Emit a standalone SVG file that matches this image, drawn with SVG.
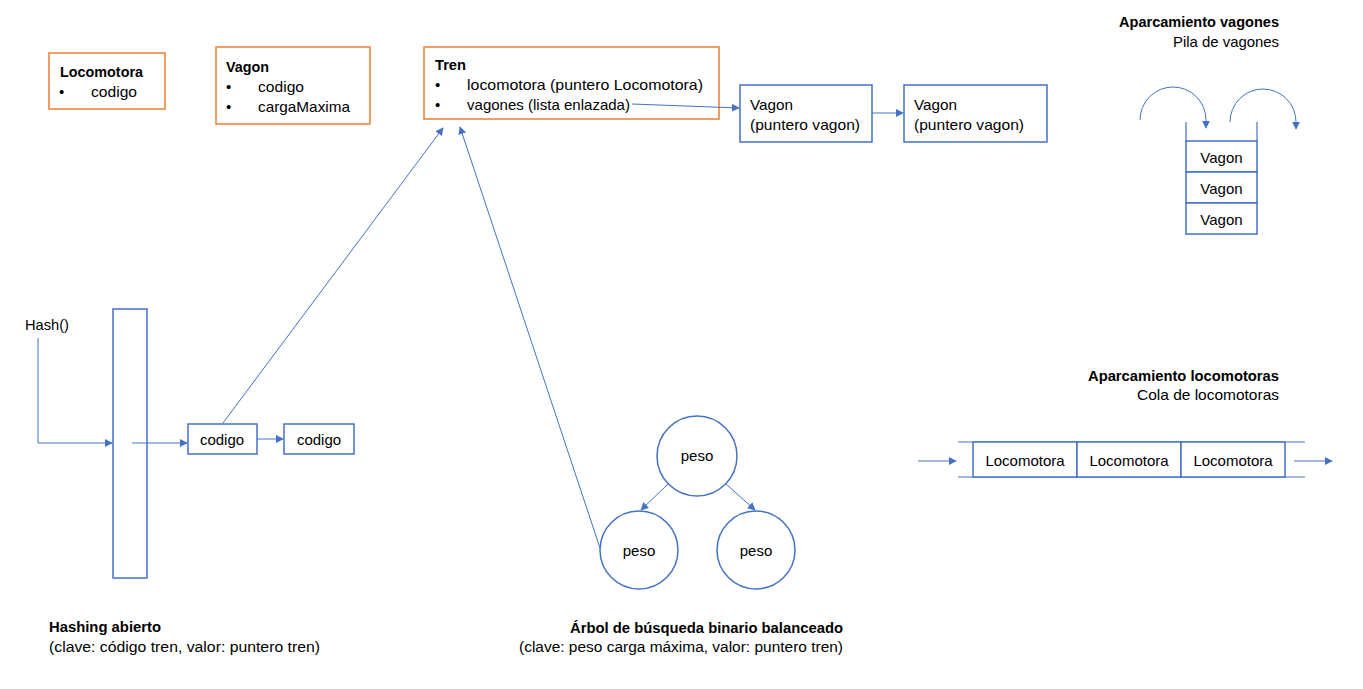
<svg xmlns="http://www.w3.org/2000/svg" width="1363" height="689" viewBox="0 0 1363 689">
<defs>
<marker id="ah" viewBox="0 0 10 10" refX="9" refY="5" markerWidth="8" markerHeight="8" markerUnits="userSpaceOnUse" orient="auto"><path d="M0,0 L10,5 L0,10 z" fill="#4472C4"/></marker>
<style>
text{font-family:"Liberation Sans",Arial,sans-serif;font-size:15px;fill:#000}
.b{font-weight:bold}
.s{font-size:14px}
.o{fill:#fff;stroke:#ED7D31;stroke-width:1.5}
.n{fill:#fff;stroke:#4472C4;stroke-width:1.5}
.c{fill:none;stroke:#4472C4;stroke-width:1;marker-end:url(#ah)}
.l{fill:none;stroke:#4472C4;stroke-width:1.2}
.m{text-anchor:middle}
.r{text-anchor:end}
</style>
</defs>
<rect width="1363" height="689" fill="#fff"/>

<g id="locomotora">
<rect class="o" x="49" y="53" width="116" height="56"/>
<text class="b" x="60" y="77" textLength="83" lengthAdjust="spacingAndGlyphs">Locomotora</text>
<text x="59" y="97">•</text>
<text x="91" y="97" textLength="46" lengthAdjust="spacingAndGlyphs">codigo</text>
</g>

<g id="vagon">
<rect class="o" x="216" y="47" width="154" height="77"/>
<text class="b" x="226" y="72" textLength="43" lengthAdjust="spacingAndGlyphs">Vagon</text>
<text x="226" y="92">•</text>
<text x="258" y="92" textLength="46" lengthAdjust="spacingAndGlyphs">codigo</text>
<text x="226" y="112">•</text>
<text x="258" y="112" textLength="92" lengthAdjust="spacingAndGlyphs">cargaMaxima</text>
</g>

<g id="tren">
<rect class="o" x="424" y="47" width="295" height="72"/>
<text class="b" x="435" y="70" textLength="31" lengthAdjust="spacingAndGlyphs">Tren</text>
<text x="435" y="90">•</text>
<text x="467" y="90" textLength="236" lengthAdjust="spacingAndGlyphs">locomotora (puntero Locomotora)</text>
<text x="435" y="110">•</text>
<text x="467" y="110" textLength="163" lengthAdjust="spacingAndGlyphs">vagones (lista enlazada)</text>
</g>

<g id="vagon1">
<rect class="n" x="740" y="85" width="132" height="57"/>
<text x="750" y="110" textLength="43" lengthAdjust="spacingAndGlyphs">Vagon</text>
<text x="750" y="130" textLength="110" lengthAdjust="spacingAndGlyphs">(puntero vagon)</text>
</g>
<g id="vagon2">
<rect class="n" x="904" y="85" width="143" height="57"/>
<text x="914" y="110" textLength="43" lengthAdjust="spacingAndGlyphs">Vagon</text>
<text x="914" y="130" textLength="110" lengthAdjust="spacingAndGlyphs">(puntero vagon)</text>
</g>

<g id="pila">
<text class="b r" x="1279" y="27" textLength="160" lengthAdjust="spacingAndGlyphs">Aparcamiento vagones</text>
<text class="r" x="1279" y="47" textLength="106" lengthAdjust="spacingAndGlyphs">Pila de vagones</text>
<line class="l" x1="1186" y1="122" x2="1186" y2="141"/>
<line class="l" x1="1257" y1="122" x2="1257" y2="141"/>
<rect class="n" x="1186" y="141" width="71" height="31"/>
<rect class="n" x="1186" y="172" width="71" height="31"/>
<rect class="n" x="1186" y="203" width="71" height="31"/>
<text class="m" x="1221.5" y="163">Vagon</text>
<text class="m" x="1221.5" y="194">Vagon</text>
<text class="m" x="1221.5" y="225">Vagon</text>
</g>

<g id="hash">
<text x="25" y="330" textLength="44" lengthAdjust="spacingAndGlyphs">Hash()</text>
<rect class="n" x="113" y="309" width="34" height="269"/>
</g>
<g id="codigo1">
<rect class="n" x="188" y="424" width="69" height="30"/>
<text class="m" x="222" y="445">codigo</text>
</g>
<g id="codigo2">
<rect class="n" x="284" y="424" width="70" height="30"/>
<text class="m" x="319" y="445">codigo</text>
</g>

<g id="arbol">
<circle class="n" cx="697" cy="456" r="40"/>
<text class="m" x="697" y="461">peso</text>
<circle class="n" cx="639" cy="550" r="39"/>
<text class="m" x="639" y="556">peso</text>
<circle class="n" cx="756" cy="550" r="39"/>
<text class="m" x="756" y="556">peso</text>
</g>

<g id="cola">
<text class="b r" x="1279" y="381" textLength="191" lengthAdjust="spacingAndGlyphs">Aparcamiento locomotoras</text>
<text class="r" x="1279" y="400" textLength="142" lengthAdjust="spacingAndGlyphs">Cola de locomotoras</text>
<line class="l" x1="958" y1="442" x2="1305" y2="442"/>
<line class="l" x1="958" y1="477" x2="1305" y2="477"/>
<rect class="n" x="973" y="442" width="104" height="35"/>
<rect class="n" x="1077" y="442" width="104" height="35"/>
<rect class="n" x="1181" y="442" width="104" height="35"/>
<text class="m" x="1025" y="466">Locomotora</text>
<text class="m" x="1129" y="466">Locomotora</text>
<text class="m" x="1233" y="466">Locomotora</text>
</g>

<g id="labels">
<text class="b s" x="49" y="632" textLength="112" lengthAdjust="spacingAndGlyphs">Hashing abierto</text>
<text class="s" x="49" y="652" textLength="271" lengthAdjust="spacingAndGlyphs">(clave: código tren, valor: puntero tren)</text>
<text class="b s r" x="843" y="633" textLength="273" lengthAdjust="spacingAndGlyphs">Árbol de búsqueda binario balanceado</text>
<text class="s r" x="843" y="652" textLength="324" lengthAdjust="spacingAndGlyphs">(clave: peso carga máxima, valor: puntero tren)</text>
</g>

<g id="connectors">
<path class="c" d="M632,104 L739,108"/>
<path class="c" d="M872,113 L903,113"/>
<path class="c" d="M1140,120 A33,33 0 0 1 1206,120 L1206,128"/>
<path class="c" d="M1230,122 A33,33 0 0 1 1296,122 L1296,129"/>
<path class="c" d="M38,338 L38,443 L112,443"/>
<path class="c" d="M132,443 L187,443"/>
<path class="c" d="M257,439 L283,439"/>
<path class="c" d="M223,423 L443,128"/>
<path class="c" d="M600,548 L460,127"/>
<path class="c" d="M668,484 L641,510"/>
<path class="c" d="M726,484 L755,510"/>
<path class="c" d="M918,461 L956,461"/>
<path class="c" d="M1294,461 L1332,461"/>
</g>
</svg>
